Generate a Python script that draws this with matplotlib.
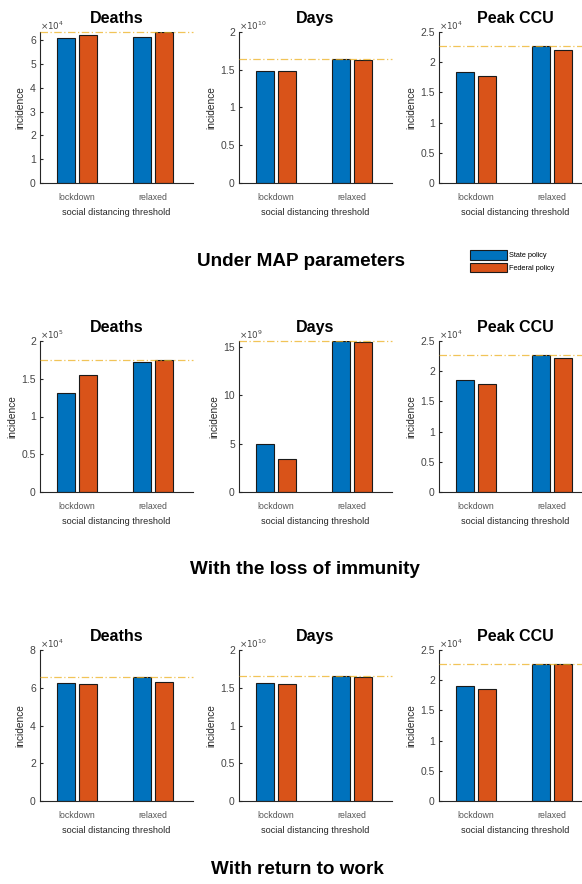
import numpy as np
import matplotlib
matplotlib.use("Agg")
import matplotlib.pyplot as plt
from matplotlib.ticker import MultipleLocator, FuncFormatter
from matplotlib.patches import Patch

# Categories and series
categories = ["lockdown", "relaxed"]
series_names = ["State policy", "Federal policy"]
metrics = ["Deaths", "Days", "Peak CCU"]
scenarios = ["Under MAP parameters", "With the loss of immunity", "With return to work"]

# Values per scenario and metric, one entry per category
map_deaths_state = [6.08e4, 6.15e4]
map_deaths_federal = [6.21e4, 6.35e4]
map_days_state = [1.487e10, 1.641e10]
map_days_federal = [1.483e10, 1.632e10]
map_ccu_state = [1.836e4, 2.263e4]
map_ccu_federal = [1.770e4, 2.208e4]

imm_deaths_state = [1.315e5, 1.720e5]
imm_deaths_federal = [1.553e5, 1.747e5]
imm_days_state = [5.01e9, 15.62e9]
imm_days_federal = [3.40e9, 15.55e9]
imm_ccu_state = [1.848e4, 2.270e4]
imm_ccu_federal = [1.787e4, 2.221e4]

work_deaths_state = [6.26e4, 6.58e4]
work_deaths_federal = [6.21e4, 6.30e4]
work_days_state = [1.565e10, 1.651e10]
work_days_federal = [1.556e10, 1.647e10]
work_ccu_state = [1.897e4, 2.266e4]
work_ccu_federal = [1.848e4, 2.271e4]

panels = [
    [(map_deaths_state, map_deaths_federal), (map_days_state, map_days_federal), (map_ccu_state, map_ccu_federal)],
    [(imm_deaths_state, imm_deaths_federal), (imm_days_state, imm_days_federal), (imm_ccu_state, imm_ccu_federal)],
    [(work_deaths_state, work_deaths_federal), (work_days_state, work_days_federal), (work_ccu_state, work_ccu_federal)],
]

# Axis scaling per panel: (y upper limit or None for data max, tick step, exponent)
y_tops = [[None, 2e10, 2.5e4], [2e5, None, 2.5e4], [8e4, 2e10, 2.5e4]]
y_steps = [[1e4, 0.5e10, 0.5e4], [0.5e5, 5e9, 0.5e4], [2e4, 0.5e10, 0.5e4]]
y_exps = [[4, 10, 4], [5, 9, 4], [4, 10, 4]]

BLUE = "#0072BD"
ORANGE = "#D95319"
REF = "#EDB120"
AX_COL = "#262626"

plt.rcParams["font.family"] = ["Liberation Sans", "DejaVu Sans"]

W, H = 582, 884
fig = plt.figure(figsize=(W / 100, H / 100), dpi=100)

lefts = [40, 239, 439]
tops = [32, 341, 650]
ax_w, ax_h = 153, 151
title_y = [261, 570, 870]
title_x = [301, 305, 297]

x = np.arange(1, len(categories) + 1)
bw = 0.23
off = 0.144

for r in range(3):
    for c in range(3):
        L = lefts[c]
        T = tops[r]
        ax = fig.add_axes([L / W, 1 - (T + ax_h) / H, ax_w / W, ax_h / H])
        st, fe = panels[r][c]
        ax.bar(x - off, st, bw, color=BLUE, edgecolor="#1a1a1a", linewidth=0.8, zorder=2)
        ax.bar(x + off, fe, bw, color=ORANGE, edgecolor="#1a1a1a", linewidth=0.8, zorder=2)
        peak = max(max(st), max(fe))
        ax.axhline(peak, color=REF, lw=0.9, alpha=0.75, linestyle=(0, (6, 2, 1, 2)), zorder=3, clip_on=False)
        top = y_tops[r][c] if y_tops[r][c] is not None else peak
        ax.set_ylim(0, top)
        ax.set_xlim(0.513, 2.526)
        ax.yaxis.set_major_locator(MultipleLocator(y_steps[r][c]))
        e = y_exps[r][c]
        ax.yaxis.set_major_formatter(FuncFormatter(lambda v, p, e=e: "%g" % round(v / 10 ** e, 6)))
        ax.set_xticks(x)
        ax.set_xticklabels(categories, fontsize=6.3, color="#555555")
        ax.tick_params(axis="x", length=0, pad=7)
        ax.tick_params(axis="y", direction="in", length=2, labelsize=7.5, colors=AX_COL, pad=3)
        ax.tick_params(axis="y", labelcolor="#444444")
        for s in ["top", "right"]:
            ax.spines[s].set_visible(False)
        for s in ["left", "bottom"]:
            ax.spines[s].set_color(AX_COL)
            ax.spines[s].set_linewidth(0.8)
        ax.set_ylabel("incidence", fontsize=7.3, color=AX_COL, labelpad=3)
        ax.set_xlabel("social distancing threshold", fontsize=6.6, color=AX_COL, labelpad=4.5)
        ax.set_title(metrics[c], fontsize=11.5, fontweight="bold", pad=6.8)
        ax.text(0.0, 1.0, r"$\times10^{%d}$" % e, transform=ax.transAxes,
                ha="left", va="bottom", fontsize=6.3, color="#444444")
    fig.text(title_x[r] / W, 1 - title_y[r] / H, scenarios[r], ha="center", va="center",
             fontsize=13.6, fontweight="bold")

handles = [Patch(facecolor=BLUE, edgecolor="#1a1a1a", linewidth=0.8),
           Patch(facecolor=ORANGE, edgecolor="#1a1a1a", linewidth=0.8)]
fig.legend(handles, series_names, loc="upper left", bbox_to_anchor=(465 / W, 1 - 245 / H),
           frameon=False, fontsize=5.3, handlelength=5.0, handleheight=1.6,
           labelspacing=0.45, handletextpad=0.3, borderpad=0.2)

fig.savefig("out.png", dpi=100)
